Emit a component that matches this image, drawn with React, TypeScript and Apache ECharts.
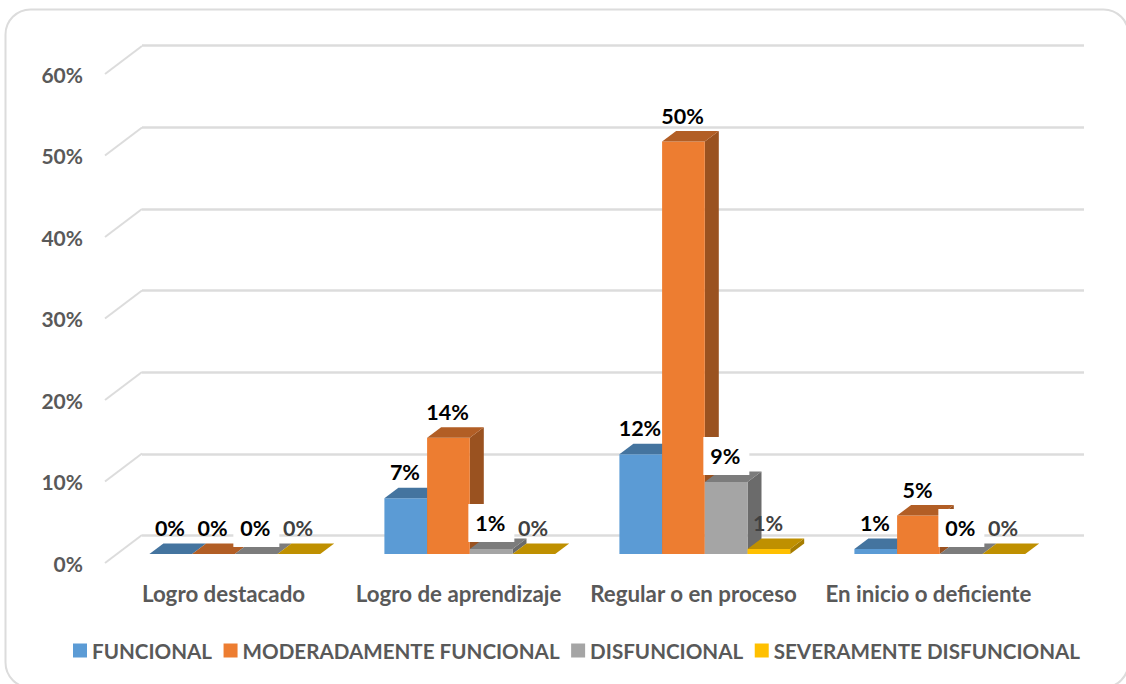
import React, { useEffect, useRef } from "react";
import * as echarts from "echarts";

const categories = ["Logro destacado", "Logro de aprendizaje", "Regular o en proceso", "En inicio o deficiente"];
const seriesNames = ["FUNCIONAL", "MODERADAMENTE FUNCIONAL", "DISFUNCIONAL", "SEVERAMENTE DISFUNCIONAL"];
const funcional = [0, 6.8, 12.2, 0.6];
const moderada = [0, 14.2, 50.4, 4.7];
const disfuncional = [0, 0.6, 8.8, 0];
const severa = [0, 0, 0.6, 0];
const seriesValues = [funcional, moderada, disfuncional, severa];
const yTicks = [0, 10, 20, 30, 40, 50, 60];

const frontColors = ["#5B9BD5", "#ED7D31", "#A5A5A5", "#FFC000"];
const topColors = ["#44749F", "#B25E25", "#7C7C7C", "#BF9000"];
const sideColors = ["#3B6589", "#9A5220", "#6B6B6B", "#A67D00"];
const labelColors = ["#000000", "#000000", "#000000", "#404040"];

const FONT = "Lato";
const TEXT = "#595959";
const BAR_W = 42.7;
const DX = 14;
const DY = -10.5;

function barRender(s: number) {
  return (params: any, api: any) => {
    const c = api.value(0);
    const v = api.value(1);
    const top = api.coord([c, v]);
    const base = api.coord([c, 0]);
    const x0 = top[0] + (s - 2) * BAR_W - 0.7;
    const x1 = x0 + BAR_W;
    const y0 = top[1];
    const y1 = base[1];
    const children: any[] = [];
    if (y1 - y0 > 0.01) {
      children.push({
        type: "polygon",
        shape: { points: [[x1, y0], [x1 + DX, y0 + DY], [x1 + DX, y1 + DY], [x1, y1]] },
        style: { fill: sideColors[s] },
      });
      children.push({
        type: "rect",
        shape: { x: x0, y: y0, width: BAR_W, height: y1 - y0 },
        style: { fill: frontColors[s] },
      });
    }
    children.push({
      type: "polygon",
      shape: { points: [[x0, y0], [x0 + DX, y0 + DY], [x1 + DX, y0 + DY], [x1, y0]] },
      style: { fill: topColors[s] },
    });
    return { type: "group", children };
  };
}

function labelRender(s: number) {
  return (params: any, api: any) => {
    const c = api.value(0);
    const v = api.value(1);
    const top = api.coord([c, v]);
    const cx = top[0] + (s - 2) * BAR_W + BAR_W / 2 - 1.5;
    const cy = top[1] - 26;
    const children: any[] = [];
    if (s === 2) {
      children.push({
        type: "rect",
        shape: { x: cx - 22, y: cy - 19, width: 46, height: 38 },
        style: { fill: "#FFFFFF" },
      });
    }
    children.push({
      type: "text",
      style: {
        text: Math.round(v) + "%",
        x: cx,
        y: cy,
        align: "center",
        verticalAlign: "middle",
        fill: labelColors[s],
        font: `bold 21.5px ${FONT}`,
      },
    });
    return { type: "group", children };
  };
}

function slantRender(params: any, api: any) {
  const y = api.coord([0, api.value(1)])[1];
  const x = params.coordSys.x - 1;
  return {
    type: "line",
    shape: { x1: x, y1: y, x2: x + 37, y2: y - 28 },
    style: { stroke: "#DCDCDC", lineWidth: 2 },
  };
}

const hiddenX = (gridIndex: number) => ({
  type: "category" as const,
  gridIndex,
  data: categories,
  axisLine: { show: false },
  axisTick: { show: false },
  axisLabel: { show: false },
  splitLine: { show: false },
});
const valueBase = { type: "value" as const, min: 0, max: 60, interval: 10 };

export default function App() {
  const ref = useRef<HTMLDivElement>(null);
  useEffect(() => {
    const chart = echarts.init(ref.current!, null, { renderer: "svg" });
    const bars = seriesNames.map((name, s) => ({
      type: "custom" as const,
      name,
      xAxisIndex: 2,
      yAxisIndex: 2,
      encode: { x: 0, y: 1 },
      itemStyle: { color: frontColors[s] },
      renderItem: barRender(s),
      silent: true,
      z: 3,
      data: seriesValues[s].map((v, i) => [i, v]),
    }));
    const labels = seriesNames.map((name, s) => ({
      type: "custom" as const,
      name: name + " etiqueta",
      xAxisIndex: 2,
      yAxisIndex: 2,
      encode: { x: 0, y: 1 },
      renderItem: labelRender(s),
      silent: true,
      z: 5,
      data: seriesValues[s].map((v, i) => [i, v]),
    }));
    chart.setOption({
      animation: false,
      backgroundColor: "#FFFFFF",
      textStyle: { fontFamily: FONT },
      graphic: [
        {
          type: "rect",
          silent: true,
          shape: { x: 5.5, y: 9.5, width: 1123, height: 678, r: 25 },
          style: { fill: "none", stroke: "#DCDCDC", lineWidth: 2 },
        },
      ],
      grid: [
        { left: 142, width: 942, top: 45.5, height: 490 },
        { left: 106, width: 940, top: 74, height: 489 },
        { left: 118, width: 940, top: 63, height: 491 },
      ],
      xAxis: [
        hiddenX(0),
        {
          ...hiddenX(1),
          axisLabel: {
            show: true,
            interval: 0,
            margin: 19,
            color: TEXT,
            fontFamily: FONT,
            fontWeight: "bold",
            fontSize: 22.3,
          },
        },
        hiddenX(2),
      ],
      yAxis: [
        {
          ...valueBase,
          gridIndex: 0,
          axisLine: { show: false },
          axisTick: { show: false },
          axisLabel: { show: false },
          splitLine: { show: true, lineStyle: { color: "#DCDCDC", width: 2.5 } },
        },
        {
          ...valueBase,
          gridIndex: 1,
          axisLine: { show: false },
          axisTick: { show: false },
          splitLine: { show: false },
          axisLabel: {
            margin: 23,
            color: TEXT,
            fontFamily: FONT,
            fontWeight: "bold",
            fontSize: 21,
            formatter: "{value}%",
          },
        },
        {
          ...valueBase,
          gridIndex: 2,
          axisLine: { show: false },
          axisTick: { show: false },
          axisLabel: { show: false },
          splitLine: { show: false },
        },
      ],
      legend: {
        data: seriesNames,
        left: 68,
        top: 635,
        icon: "rect",
        itemWidth: 14,
        itemHeight: 14,
        itemGap: 11.5,
        selectedMode: false,
        textStyle: { color: TEXT, fontFamily: FONT, fontWeight: "bold", fontSize: 20.6 },
      },
      series: [
        {
          type: "custom",
          name: "ejes",
          xAxisIndex: 1,
          yAxisIndex: 1,
          encode: { x: 0, y: 1 },
          renderItem: slantRender,
          silent: true,
          z: 1,
          data: yTicks.map((t) => [0, t]),
        },
        ...bars,
        ...labels,
      ],
    });
    return () => chart.dispose();
  }, []);
  return (
    <div
      ref={ref}
      style={{ position: "absolute", left: 0, top: 0, width: 1126, height: 684, overflow: "hidden" }}
    />
  );
}
